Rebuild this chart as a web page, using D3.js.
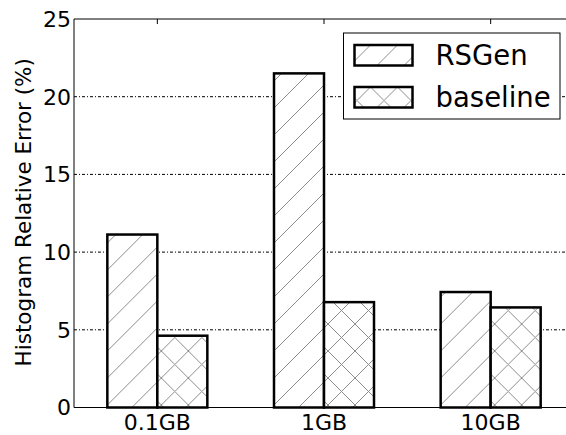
<!DOCTYPE html>
<html>
<head>
<meta charset="utf-8">
<script src="https://cdn.jsdelivr.net/npm/d3@7.9.0/dist/d3.min.js"></script>
<style>
  body { margin: 0; background: #fff; }
  svg { display: block; font-family: 'DejaVu Sans', sans-serif; }
</style>
</head>
<body>
<svg id="chart" width="566" height="435"></svg>
<script>
// data
const categories = ['0.1GB', '1GB', '10GB'];
const seriesNames = ['RSGen', 'baseline'];
const rsgen = [11.13, 21.5, 7.43];
const baseline = [4.62, 6.78, 6.44];
const yTicks = [0, 5, 10, 15, 20, 25];

const width = 566;
const height = 435;
const margin = { top: 19, left: 74, bottom: 27.5 };
const plotRight = 574; // frame runs past the picture edge

const svg = d3.select('#chart');

// hatch patterns
const defs = svg.append('defs');
const hs = 27;
const slash = defs.append('pattern')
    .attr('id', 'hatch-slash')
    .attr('patternUnits', 'userSpaceOnUse')
    .attr('width', hs).attr('height', hs);
slash.append('rect').attr('width', hs).attr('height', hs).attr('fill', '#fff');
slash.append('path')
    .attr('d', `M0,${hs} L${hs},0 M${-hs / 2},${hs / 2} L${hs / 2},${-hs / 2} M${hs / 2},${hs * 1.5} L${hs * 1.5},${hs / 2}`)
    .attr('stroke', '#8c8c8c').attr('stroke-width', 1);

const cross = defs.append('pattern')
    .attr('id', 'hatch-cross')
    .attr('patternUnits', 'userSpaceOnUse')
    .attr('width', hs).attr('height', hs);
cross.append('rect').attr('width', hs).attr('height', hs).attr('fill', '#fff');
cross.append('path')
    .attr('d', `M0,${hs} L${hs},0 M${-hs / 2},${hs / 2} L${hs / 2},${-hs / 2} M${hs / 2},${hs * 1.5} L${hs * 1.5},${hs / 2}` +
               ` M0,0 L${hs},${hs} M${-hs / 2},${hs / 2} L${hs / 2},${hs * 1.5} M${hs / 2},${-hs / 2} L${hs * 1.5},${hs / 2}`)
    .attr('stroke', '#8c8c8c').attr('stroke-width', 1);

const fills = { RSGen: 'url(#hatch-slash)', baseline: 'url(#hatch-cross)' };

const xScale = d3.scaleBand()
    .domain(categories)
    .range([margin.left, plotRight])
    .paddingInner(0.4)
    .paddingOuter(0.2);

const xSub = d3.scaleBand()
    .domain(seriesNames)
    .range([0, xScale.bandwidth()]);

const yScale = d3.scaleLinear()
    .domain([0, 25])
    .range([height - margin.bottom, margin.top]);

// gridlines
svg.append('g')
    .attr('class', 'gridlines')
    .selectAll('line')
    .data(yTicks.filter(d => d > 0 && d < 25))
    .join('line')
    .attr('x1', margin.left)
    .attr('x2', plotRight)
    .attr('y1', d => yScale(d))
    .attr('y2', d => yScale(d))
    .attr('stroke', '#000')
    .attr('stroke-width', 1)
    .attr('stroke-dasharray', '3,2,1,2');

// bars
const rows = categories.map((c, i) => ({ cat: c, values: [
    { name: 'RSGen', value: rsgen[i] },
    { name: 'baseline', value: baseline[i] },
] }));

svg.append('g')
    .selectAll('g')
    .data(rows)
    .join('g')
    .attr('transform', d => `translate(${xScale(d.cat)},0)`)
    .selectAll('rect')
    .data(d => d.values)
    .join('rect')
    .attr('x', d => xSub(d.name))
    .attr('y', d => yScale(d.value))
    .attr('width', xSub.bandwidth())
    .attr('height', d => yScale(0) - yScale(d.value))
    .attr('fill', d => fills[d.name])
    .attr('stroke', '#000')
    .attr('stroke-width', 2.5);

// frame
const frame = svg.append('g').attr('fill', 'none').attr('stroke', '#000').attr('stroke-width', 1);
frame.append('line').attr('x1', margin.left).attr('x2', plotRight)
    .attr('y1', yScale(25)).attr('y2', yScale(25));
frame.append('line').attr('x1', margin.left).attr('x2', plotRight)
    .attr('y1', yScale(0)).attr('y2', yScale(0));
frame.append('line').attr('x1', margin.left).attr('x2', margin.left)
    .attr('y1', yScale(0)).attr('y2', yScale(25));

// top ticks at category centres
frame.selectAll('.tt')
    .data(categories)
    .join('line')
    .attr('x1', d => xScale(d) + xScale.bandwidth() / 2)
    .attr('x2', d => xScale(d) + xScale.bandwidth() / 2)
    .attr('y1', yScale(25))
    .attr('y2', yScale(25) + 5);

// y tick labels
svg.append('g')
    .selectAll('text')
    .data(yTicks)
    .join('text')
    .attr('x', margin.left - 3)
    .attr('y', d => yScale(d))
    .attr('dy', '0.36em')
    .attr('text-anchor', 'end')
    .attr('font-size', 22)
    .attr('fill', '#000')
    .text(d => d);

// x tick labels
svg.append('g')
    .selectAll('text')
    .data(categories)
    .join('text')
    .attr('x', d => xScale(d) + xScale.bandwidth() / 2)
    .attr('y', yScale(0) + 15)
    .attr('dy', '0.36em')
    .attr('text-anchor', 'middle')
    .attr('font-size', 22)
    .attr('fill', '#000')
    .text(d => d);

// y axis title
svg.append('text')
    .attr('transform', `translate(31,${(yScale(0) + yScale(25)) / 2 - 1}) rotate(-90)`)
    .attr('text-anchor', 'middle')
    .attr('font-size', 21.5)
    .attr('fill', '#000')
    .text('Histogram Relative Error (%)');

// legend
const legend = svg.append('g').attr('transform', 'translate(343.5,33)');
legend.append('rect')
    .attr('width', 216.5).attr('height', 86)
    .attr('fill', '#fff').attr('stroke', '#000').attr('stroke-width', 1);

const items = legend.selectAll('g.item')
    .data(seriesNames)
    .join('g')
    .attr('class', 'item')
    .attr('transform', (d, i) => `translate(0,${12 + i * 42})`);
items.append('rect')
    .attr('x', 11).attr('y', 0)
    .attr('width', 58).attr('height', 20.5)
    .attr('fill', d => fills[d])
    .attr('stroke', '#000').attr('stroke-width', 2.5);
items.append('text')
    .attr('x', 92).attr('y', 10)
    .attr('dy', '0.36em')
    .attr('font-size', 27.5)
    .attr('fill', '#000')
    .text(d => d);
</script>
</body>
</html>
